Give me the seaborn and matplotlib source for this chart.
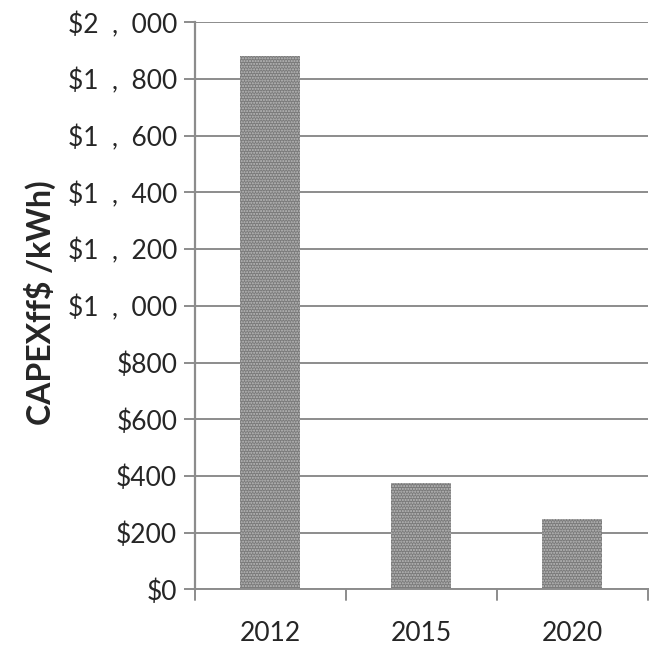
import numpy as np
import pandas as pd
import matplotlib
matplotlib.use("Agg")
import matplotlib.pyplot as plt
import seaborn as sns

years = ["2012", "2015", "2020"]
capex = [1881, 375, 249]
y_ticks = [0, 200, 400, 600, 800, 1000, 1200, 1400, 1600, 1800, 2000]
y_labels = ["$0", "$200", "$400", "$600", "$800", "$1  ,  000", "$1  ,  200",
            "$1  ,  400", "$1  ,  600", "$1  ,  800", "$2  ,  000"]
y_title = "CAPEXff$ /kWh)"

sns.set_style("white")
plt.rcParams['font.family'] = ['Lato', 'DejaVu Sans']
plt.rcParams['hatch.linewidth'] = 1.0

df = pd.DataFrame({"year": years, "capex": capex})

fig = plt.figure(figsize=(6.53, 6.48), dpi=100)
ax = fig.add_axes([0.298, 0.0903, 0.694, 0.8753])

sns.barplot(data=df, x="year", y="capex", ax=ax, color="#7a7a7a",
            width=0.4, saturation=1)
for p in ax.patches:
    p.set_hatch("......")
    p.set_edgecolor("#bdbdbd")
    p.set_linewidth(0)

grid_c = "#8c8c8c"
ax.set_ylim(0, 2000)
ax.set_xlim(-0.5, 2.5)
ax.set_yticks(y_ticks)
ax.set_yticklabels(y_labels, fontsize=19)
ax.yaxis.grid(True, color=grid_c, linewidth=1.4)
ax.set_axisbelow(True)

ax.set_xticks([0, 1, 2])
ax.set_xticklabels(years, fontsize=19)
ax.tick_params(axis="x", length=0, pad=23)
# boundary ticks between categories
for xb in [-0.5, 0.5, 1.5, 2.5]:
    ax.plot([xb, xb], [0, -38], color=grid_c, lw=1.4, clip_on=False)
ax.tick_params(axis="y", length=8, width=1.4, color=grid_c, pad=4.5, left=True)

for s in ["top", "right"]:
    ax.spines[s].set_visible(False)
ax.spines["left"].set_color(grid_c)
ax.spines["left"].set_linewidth(1.6)
ax.spines["bottom"].set_color(grid_c)
ax.spines["bottom"].set_linewidth(1.4)

ax.set_xlabel("")
ax.set_ylabel("")
fig.text(40 / 653, 1 - 303 / 648, y_title, rotation=90, ha="center",
         va="center", fontsize=23, fontweight="bold")

fig.savefig("out.png", dpi=100)
